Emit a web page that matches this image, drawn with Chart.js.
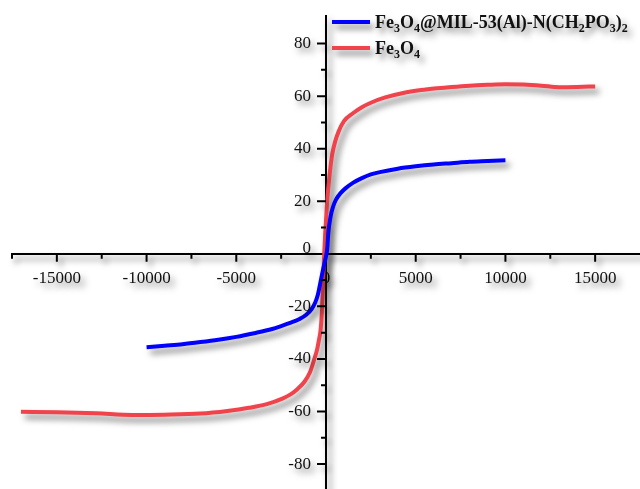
<!DOCTYPE html>
<html>
<head>
<meta charset="utf-8">
<script src="https://cdn.jsdelivr.net/npm/chart.js@4.4.1/dist/chart.umd.min.js"></script>
<style>
html, body { margin: 0; padding: 0; background: #fff; }
#wrap { width: 640px; height: 489px; }
</style>
</head>
<body>
<div id="wrap"><canvas id="my-chart"></canvas></div>
<script>
// series names (unicode subscripts are drawn as small text by the legend)
let seriesNames = ['Fe₃O₄@MIL-53(Al)-N(CH₂PO₃)₂', 'Fe₃O₄'];

// Fe3O4@MIL-53(Al)-N(CH2PO3)2 : field (Oe) and magnetization (emu/g)
let compField = [-10000, -9000, -8000, -7000, -6000, -5000, -4000, -3000, -2500, -2000, -1500, -1100, -800, -600, -450, -300, -180, -100, 0, 70, 130, 250, 400, 550, 800, 1100, 1500, 2000, 2500, 3000, 4000, 5000, 6000, 7000, 8000, 9000, 10000];
let compMag = [-35.6, -35.0, -34.4, -33.6, -32.7, -31.6, -30.2, -28.6, -27.5, -26.3, -24.9, -23.2, -21.0, -18.5, -15.5, -10.5, -6.5, -4.0, -1.0, 2.0, 8.0, 14.0, 18.0, 20.5, 23.0, 25.0, 27.0, 28.8, 30.2, 31.1, 32.4, 33.3, 34.0, 34.5, 35.0, 35.3, 35.6];

// bare Fe3O4
let bareField = [-17000, -15000, -12800, -10800, -9000, -7000, -5500, -4300, -3300, -2400, -2000, -1600, -1200, -900, -670, -500, -400, -300, -220, -150, -100, -40, 20, 100, 170, 250, 350, 500, 700, 1000, 1500, 2000, 2500, 3300, 4300, 5300, 6200, 7000, 8000, 9000, 10000, 11000, 12000, 13000, 14000, 15000];
let bareMag = [-60.1, -60.3, -60.7, -61.3, -61.2, -60.8, -59.8, -58.6, -57.2, -55.0, -53.6, -51.5, -48.7, -45.2, -40.5, -36.5, -33.0, -29.0, -21.0, -9.0, 0.0, 8.0, 15.0, 23.0, 28.0, 33.0, 38.0, 42.5, 46.5, 50.5, 53.5, 55.8, 57.5, 59.5, 61.2, 62.3, 63.0, 63.5, 64.0, 64.3, 64.5, 64.4, 64.0, 63.4, 63.5, 63.7];

// tick labels
let xTicks = [-15000, -10000, -5000, 0, 5000, 10000, 15000];
let xMinorTicks = [-17500, -12500, -7500, -2500, 2500, 7500, 12500];
let yTicks = [-80, -60, -40, -20, 0, 20, 40, 60, 80];
let yMinorTicks = [-70, -50, -30, -10, 10, 30, 50, 70];

let lineColors = ['#0000ff', '#f0434b'];

function toPoints(xs, ys) {
    return xs.map((x, i) => ({ x: x, y: ys[i] }));
}

// draw text where unicode subscript digits become small lowered digits
const subMap = { '₀': '0', '₁': '1', '₂': '2', '₃': '3', '₄': '4', '₅': '5', '₆': '6', '₇': '7', '₈': '8', '₉': '9' };
function drawRich(ctx, text, x, y) {
    for (const ch of text) {
        if (subMap[ch]) {
            ctx.font = 'bold 12px "Liberation Serif"';
            ctx.fillText(subMap[ch], x, y + 4);
            x += ctx.measureText(subMap[ch]).width;
        } else {
            ctx.font = 'bold 18px "Liberation Serif"';
            ctx.fillText(ch, x, y);
            x += ctx.measureText(ch).width;
        }
    }
}

const decoPlugin = {
    id: 'deco',
    beforeDraw(chart) {
        const c = chart.ctx;
        c.save();
        c.shadowColor = 'rgba(0,0,0,0.5)';
        c.shadowBlur = 6;
        c.shadowOffsetX = 4;
        c.shadowOffsetY = 5;
    },
    afterDraw(chart) {
        const c = chart.ctx;
        const xs = chart.scales.x, ys = chart.scales.y;
        const x0 = xs.getPixelForValue(0), y0 = ys.getPixelForValue(0);
        // tick marks, long for labelled ones, short for minor ones
        c.strokeStyle = '#000';
        c.lineWidth = 2;
        c.beginPath();
        xTicks.forEach(v => { if (v !== 0) { const p = xs.getPixelForValue(v); c.moveTo(p, y0); c.lineTo(p, y0 + 8); } });
        xMinorTicks.forEach(v => { const p = xs.getPixelForValue(v); c.moveTo(p, y0); c.lineTo(p, y0 + 5); });
        yTicks.forEach(v => { if (v !== 0) { const p = ys.getPixelForValue(v); c.moveTo(x0, p); c.lineTo(x0 - 9, p); } });
        yMinorTicks.forEach(v => { const p = ys.getPixelForValue(v); c.moveTo(x0, p); c.lineTo(x0 - 5, p); });
        c.stroke();

        // y tick labels, left of the vertical axis
        c.fillStyle = '#111';
        c.font = '17px "Liberation Serif"';
        c.textAlign = 'right';
        c.textBaseline = 'middle';
        yTicks.forEach(v => { c.fillText(String(v), x0 - 15, ys.getPixelForValue(v) - (v === 0 ? 5 : 0)); });

        // legend
        c.textBaseline = 'alphabetic';
        c.textAlign = 'left';
        seriesNames.forEach((name, i) => {
            const ly = 22 + i * 26;
            c.strokeStyle = lineColors[i];
            c.lineWidth = 4;
            c.beginPath();
            c.moveTo(332, ly);
            c.lineTo(370, ly);
            c.stroke();
            c.fillStyle = '#111';
            drawRich(c, name, 375, ly + 6);
        });
        c.restore();
    }
};

new Chart('my-chart', {
    type: 'scatter',
    data: {
        datasets: [
            {
                label: seriesNames[0],
                data: toPoints(compField, compMag),
                showLine: true,
                borderColor: lineColors[0],
                borderWidth: 4,
                pointRadius: 0,
                cubicInterpolationMode: 'monotone'
            },
            {
                label: seriesNames[1],
                data: toPoints(bareField, bareMag),
                showLine: true,
                borderColor: lineColors[1],
                borderWidth: 4,
                pointRadius: 0,
                cubicInterpolationMode: 'monotone'
            }
        ]
    },
    options: {
        responsive: true,
        maintainAspectRatio: false,
        animation: false,
        layout: { padding: { left: 12, top: 16, right: 0, bottom: 0 } },
        plugins: {
            legend: { display: false },
            tooltip: { enabled: false }
        },
        scales: {
            x: {
                type: 'linear',
                position: { y: 0 },
                min: -17500,
                max: 17500,
                afterBuildTicks: (scale) => { scale.ticks = xTicks.map(v => ({ value: v })); },
                grid: { drawOnChartArea: false, drawTicks: true, tickLength: 8, tickColor: 'rgba(0,0,0,0)' },
                border: { display: true, color: '#000', width: 2 },
                ticks: {
                    color: '#111',
                    padding: 7,
                    maxRotation: 0,
                    autoSkip: false,
                    font: { family: 'Liberation Serif', size: 17 },
                    callback: (v) => String(v)
                }
            },
            y: {
                type: 'linear',
                position: { x: 0 },
                min: -89.5,
                max: 90.5,
                afterBuildTicks: (scale) => { scale.ticks = yTicks.map(v => ({ value: v })); },
                grid: { display: false },
                border: { display: true, color: '#000', width: 2 },
                ticks: { display: false }
            }
        }
    },
    plugins: [decoPlugin]
});
</script>
</body>
</html>
